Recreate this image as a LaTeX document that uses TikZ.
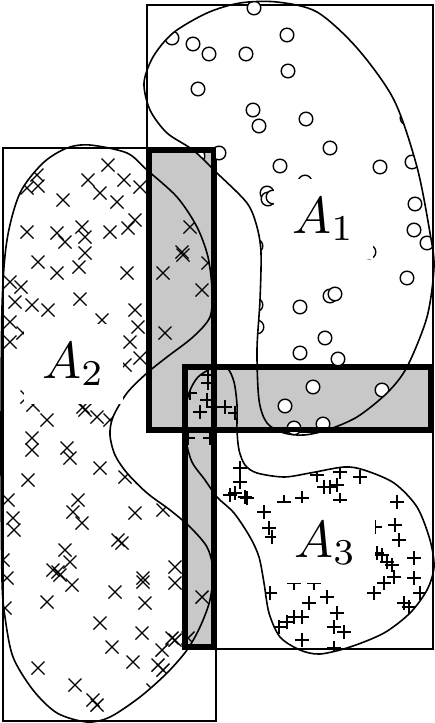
\documentclass[tikz,border=0pt]{standalone}
\usepackage{graphicx}
\usepackage{tikz}
\definecolor{barfill}{RGB}{200,200,200}
\newcommand\blobApath{plot[smooth cycle] coordinates {(277,2) (317,12) (357,48) (394,100) (417,167) (430,233) (434,267) (427,317) (407,367) (387,393) (357,417) (327,430) (304,435) (284,433) (267,423) (259,400) (257,350) (260,300) (261,253) (257,227) (247,203) (217,173) (193,150) (167,133) (150,110) (144,83) (153,57) (173,33) (207,13) (240,3)}}
\newcommand\blobBpath{plot[smooth cycle] coordinates {(90,145) (127,153) (147,170) (177,197) (197,227) (208,257) (212,290) (210,317) (193,337) (167,357) (147,373) (127,393) (113,417) (110,435) (115,455) (127,473) (147,493) (170,510) (190,527) (207,547) (213,570) (210,600) (200,627) (187,650) (167,673) (140,697) (110,717) (87,722) (57,713) (33,690) (13,657) (5,617) (2,580) (1,450) (2,307) (7,240) (20,193) (43,163) (67,148)}}
\newcommand\blobCpath{plot[smooth cycle] coordinates {(213,368) (227,368) (234,382) (237,405) (237,430) (239,450) (245,465) (257,473) (284,477) (310,473) (344,467) (364,470) (394,483) (417,507) (430,540) (434,567) (427,590) (410,613) (384,633) (350,647) (320,654) (300,650) (280,637) (269,613) (264,583) (259,557) (250,537) (234,513) (217,497) (205,480) (192,462) (186,440) (185,415) (189,393) (198,377)}}
\newcommand\biglab[1]{\scalebox{5.2}{$#1$}}
\tikzset{
  thinbox/.style={draw=black,line width=1.3pt},
  thickbox/.style={draw=black,line width=5pt},
  blobline/.style={draw=black,line width=1.6pt},
  mk/.style={draw=black,line width=1.4pt},
  lab/.style={fill=white,inner sep=18pt,anchor=base}
}
\begin{document}
\begin{tikzpicture}[x=1pt,y=-1pt]
\fill[white] (0,0) rectangle (435,723);
\useasboundingbox (0,0) rectangle (435,723);
% shaded intersections
\fill[barfill] (147,148) rectangle (216,432);
\fill[barfill] (183,365) rectangle (433,432);
\fill[barfill] (183,365) rectangle (216,649);
% bounding boxes
\draw[thinbox] (147,5) rectangle (433,432);
\draw[thinbox] (3,148) rectangle (216,721);
\draw[thinbox] (183,365) rectangle (433,649);
% markers A1
\begin{scope}
\clip \blobApath;
\foreach \x/\y in {254/8,172/38,193/44,209/54,246/54,287/35,288/71,198/89,253/110,259/126,306/119,407/118,330/148,280/166,380/167,412/162,219/153,198/156,267/193,268/199,273/197,305/182,415/204,414/230,427/243,282/230,256/246,369/252,407/278,330/296,335/294,300/307,256/305,257/327,325/338,300/353,338/359,313/387,382/390,285/406,294/428,323/424}
  {\draw[mk,fill=white] (\x,\y) circle[radius=6.8];}
\end{scope}
% markers A2
\begin{scope}
\clip \blobBpath;
\foreach \x/\y in {108/165,88/180,100/193,124/180,117/202,140/187,63/200,37/175,38/186,27/188,27/232,57/233,65/242,82/227,85/237,85/253,110/232,128/228,135/220,38/262,57/273,79/267,127/273,10/282,21/287,15/302,32/305,48/310,80/299,10/322,10/342,23/333,135/310,138/327,130/342,140/358,125/365,102/320,190/227,182/252,183/255,163/273,202/290,165/333,208/263,27/397,33/405,47/420,83/407,85/410,97/417,110/420,32/438,32/450,67/448,70/458,100/468,28/480,125/477,8/500,78/500,73/512,82/523,135/513,163/510,13/518,14/530,118/540,122/543,65/550,70/562,3/560,7/578,53/570,58/572,60/575,72/585,115/592,143/578,143/582,175/567,175/583,47/602,145/603,5/608,202/597,100/623,142/633,172/638,175/640,188/638,112/647,162/650,133/662,158/665,163/670,38/668,75/685,93/700,97/705,153/690}
  {\draw[mk] (\x-6.5,\y-6.5) -- (\x+6.5,\y+6.5) (\x-6.5,\y+6.5) -- (\x+6.5,\y-6.5);}
\end{scope}
% markers A3
\begin{scope}
\clip \blobCpath;
\foreach \x/\y in {208/375,208/383,207/400,200/412,225/407,213/407,190/393,188/438,210/438,235/413,240/468,240/482,230/495,235/493,247/498,245/497,264/512,269/528,272/537,284/502,302/498,317/475,324/487,330/487,337/485,340/472,360/477,340/500,397/502,395/525,399/540,375/527,377/553,382/555,387/562,392/565,414/558,414/578,394/577,384/583,374/593,420/593,404/603,409/607,270/593,309/603,327/597,337/613,294/617,287/622,279/627,302/617,334/627,344/632,302/640,334/648,294/583,314/583}
  {\draw[mk] (\x-7,\y) -- (\x+7,\y) (\x,\y-7) -- (\x,\y+7);}
\end{scope}
% blob outlines
\draw[blobline] \blobApath;
\draw[blobline] \blobBpath;
\draw[blobline] \blobCpath;
% labels
\node[lab] (labA1) at (323.5,233) {\biglab{A_1}};
\node[lab] (labA2) at (73.5,378) {\biglab{A_2}};
\node[lab] (labA3) at (325.5,557) {\biglab{A_3}};
% thick intersection borders
\draw[thickbox] (149.5,150.5) rectangle (213.5,429.5);
\draw[thickbox] (185.5,367.5) rectangle (430.5,429.5);
\draw[thickbox] (185.5,367.5) rectangle (213.5,646.5);
\end{tikzpicture}
\end{document}
